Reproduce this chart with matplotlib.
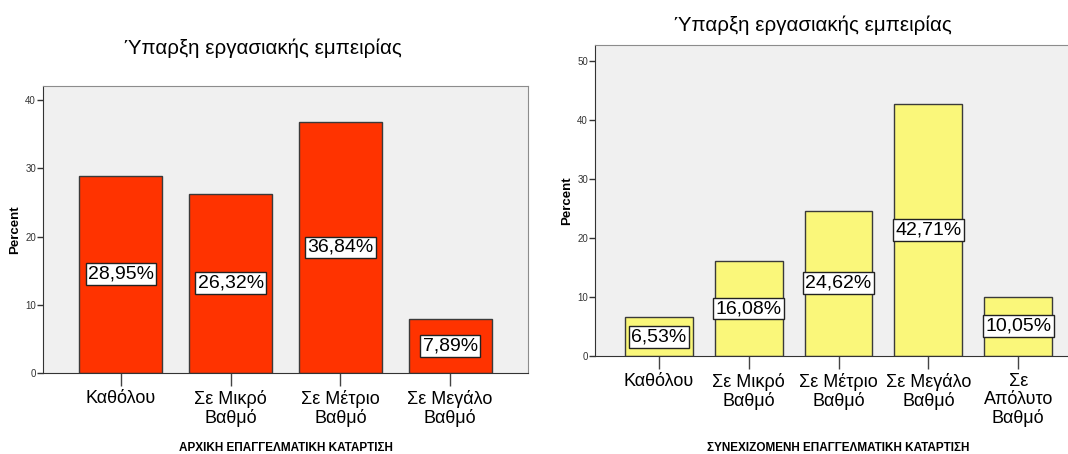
import matplotlib.pyplot as plt

plt.rcParams['font.family'] = ['Liberation Sans', 'DejaVu Sans']

# Initial vocational training
initial_labels = ["Καθόλου", "Σε Μικρό\nΒαθμό", "Σε Μέτριο\nΒαθμό", "Σε Μεγάλο\nΒαθμό"]
initial_pct = [28.95, 26.32, 36.84, 7.89]

# Continuing vocational training
continuing_labels = ["Καθόλου", "Σε Μικρό\nΒαθμό", "Σε Μέτριο\nΒαθμό", "Σε Μεγάλο\nΒαθμό",
                     "Σε\nΑπόλυτο\nΒαθμό"]
continuing_pct = [6.53, 16.08, 24.62, 42.71, 10.05]

title = "Ύπαρξη εργασιακής εμπειρίας"
W, H = 1068, 454

fig = plt.figure(figsize=(W / 100, H / 100), dpi=100)


def px_axes(left, right, top, bottom):
    return fig.add_axes([left / W, 1 - bottom / H, (right - left) / W, (bottom - top) / H])


def draw_panel(ax, labels, values, color, ymax, yticks, xlabel):
    x = range(len(values))
    ax.set_facecolor('#f0f0f0')
    ax.bar(x, values, width=0.755, color=color, edgecolor='#3a3a3a', linewidth=1, zorder=2)
    for xi, v in zip(x, values):
        ax.text(xi, v / 2, f"{v:.2f}%".replace('.', ','), ha='center', va='center',
                fontsize=14, zorder=3,
                bbox=dict(boxstyle='square,pad=0.12', facecolor='white',
                          edgecolor='#222222', linewidth=1))
    ax.set_xlim(-0.71, len(values) - 1 + 0.71)
    ax.set_ylim(0, ymax)
    ax.set_yticks(yticks)
    ax.tick_params(axis='y', labelsize=7, labelcolor='#333333', length=4,
                   width=1, color='#333333', pad=1)
    ax.set_xticks(list(x))
    ax.set_xticklabels(labels, fontsize=13, linespacing=1.1)
    ax.tick_params(axis='x', length=9, width=1, color='#444444', pad=3)
    for side in ('top', 'right'):
        ax.spines[side].set_color('#8c8c8c')
    for side in ('left', 'bottom'):
        ax.spines[side].set_color('#333333')
    ax.set_ylabel("Percent", fontsize=9.5, fontweight='bold')
    ax.set_xlabel(xlabel, fontsize=8.5, fontweight='bold')


ax1 = px_axes(43, 528, 86, 373)
draw_panel(ax1, initial_labels, initial_pct, '#ff3300', 42.1, [0, 10, 20, 30, 40],
           "ΑΡΧΙΚΗ ΕΠΑΓΓΕΛΜΑΤΙΚΗ ΚΑΤΑΡΤΙΣΗ")
ax1.yaxis.set_label_coords(-22 / 485, 0.5)
ax1.xaxis.set_label_coords(0.5, -69 / 287)

ax2 = px_axes(595, 1082, 45, 356)
draw_panel(ax2, continuing_labels, continuing_pct, '#faf77a', 52.66, [0, 10, 20, 30, 40, 50],
           "ΣΥΝΕΧΙΖΟΜΕΝΗ ΕΠΑΓΓΕΛΜΑΤΙΚΗ ΚΑΤΑΡΤΙΣΗ")
ax2.yaxis.set_label_coords(-22 / 487, 0.5)
ax2.xaxis.set_label_coords(0.5, -86 / 311)

fig.text(263 / W, 1 - 48 / H, title, ha='center', va='center', fontsize=14.8)
fig.text(813 / W, 1 - 25 / H, title, ha='center', va='center', fontsize=14.8)

fig.savefig('out.png', dpi=100)
